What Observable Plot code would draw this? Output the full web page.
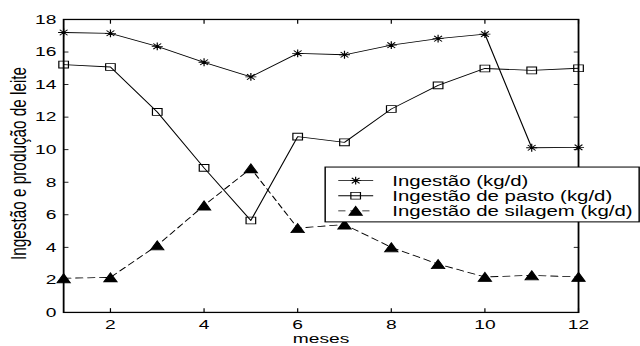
<!DOCTYPE html>
<html><head><meta charset="utf-8">
<script src="https://cdn.jsdelivr.net/npm/d3@7"></script>
<script src="https://cdn.jsdelivr.net/npm/@observablehq/plot@0.6"></script>
<style>body{margin:0;background:#fff} #chart svg{display:block}</style>
</head><body><div id="chart"></div>
<script>
const meses = [1,2,3,4,5,6,7,8,9,10,11,12];
const ingestao = [17.2, 17.15, 16.35, 15.37, 14.47, 15.92, 15.83, 16.42, 16.82, 17.1, 10.12, 10.14];
const pasto = [15.23, 15.08, 12.32, 8.88, 5.65, 10.8, 10.45, 12.5, 13.95, 14.99, 14.87, 15.0];
const silagem = [2.1, 2.15, 4.12, 6.57, 8.85, 5.18, 5.4, 4.0, 2.97, 2.18, 2.28, 2.18];
const seriesNames = ["Ingestão (kg/d)", "Ingestão de pasto (kg/d)", "Ingestão de silagem (kg/d)"];
const xTicks = [2,4,6,8,10,12];
const yTicks = [0,2,4,6,8,10,12,14,16,18];
const xLabel = "meses";
const yLabel = "Ingestão e produção de leite";

const seriesValues = [ingestao, pasto, silagem];
const rows = seriesNames.map((s, k) => meses.map((m, i) => ({mes: m, valor: seriesValues[k][i], serie: s})));

const asterisk = {draw(ctx){ const r=4.6, d=r*0.7071;
  ctx.moveTo(-r,0);ctx.lineTo(r,0);ctx.moveTo(0,-r);ctx.lineTo(0,r);
  ctx.moveTo(-d,-d);ctx.lineTo(d,d);ctx.moveTo(-d,d);ctx.lineTo(d,-d);}};
const square = {draw(ctx){ const s=4; ctx.moveTo(-s,-s);ctx.lineTo(s,-s);ctx.lineTo(s,s);ctx.lineTo(-s,s);ctx.closePath();}};
const triangle = {draw(ctx){ const w=5.5,h=5.3; ctx.moveTo(0,-h);ctx.lineTo(w,h);ctx.lineTo(-w,h);ctx.closePath();}};
const symbols = [asterisk, square, triangle];
const fills = ["none", "none", "black"];
const dashes = [null, null, "6,4"];

const VW = 533, VH = 407;
const marks = [];
rows.forEach((r, k) => {
  marks.push(Plot.lineY(r, {x: "mes", y: "valor", stroke: "black", strokeWidth: 1, strokeDasharray: dashes[k]}));
  marks.push(Plot.dot(r, {x: "mes", y: "valor", symbol: symbols[k], stroke: "black", fill: fills[k], strokeWidth: 1, r: 5}));
});
marks.push(
  Plot.axisX({ticks: xTicks, tickSize: 0, tickPadding: 8, label: null, fontSize: 16}),
  Plot.axisX({ticks: xTicks, tickSize: -4.5, text: null, label: null}),
  Plot.axisX({anchor: "top", ticks: xTicks, tickSize: -4.5, text: null, label: null}),
  Plot.axisY({ticks: yTicks, tickSize: 0, tickPadding: 6, label: null, fontSize: 16}),
  Plot.axisY({ticks: yTicks, tickSize: -4.5, text: null, label: null}),
  Plot.axisY({anchor: "right", ticks: yTicks, tickSize: -4.5, text: null, label: null}),
  Plot.frame({stroke: "black", strokeWidth: 1.5}),
  Plot.text([xLabel], {frameAnchor: "bottom", dy: 30.6, text: d => d, lineAnchor: "middle", textAnchor: "middle", fontSize: 16}),
  Plot.text([yLabel], {frameAnchor: "left", rotate: -90, dx: -36.7, dy: -3, text: d => d, fontSize: 18, lineAnchor: "middle", textAnchor: "middle"})
);

const svg = Plot.plot({
  width: VW, height: VH,
  marginLeft: 52.5, marginRight: 51.7, marginTop: 22.4, marginBottom: 40,
  style: {fontFamily: "'Liberation Sans', Arial, sans-serif", fontSize: "15px", color: "#000", background: "#fff"},
  x: {domain: [1, 12]},
  y: {domain: [0, 18]},
  marks
});

// legend
const lg = d3.select(svg).append("g").attr("text-anchor", "start");
lg.append("rect").attr("x", 270.8).attr("y", 196.5).attr("width", 261.5).attr("height", 64.5)
  .attr("fill", "white").attr("stroke", "black").attr("stroke-width", 1.2);
const rowY = [212.5, 230.3, 248.0];
seriesNames.forEach((name, k) => {
  lg.append("line").attr("x1", 281.7).attr("x2", 310.8).attr("y1", rowY[k]).attr("y2", rowY[k])
    .attr("stroke", "black").attr("stroke-width", 1).attr("stroke-dasharray", dashes[k]);
  lg.append("path").attr("d", d3.symbol().type(symbols[k])()).attr("transform", `translate(296.2,${rowY[k]})`)
    .attr("stroke", "black").attr("fill", fills[k]);
  lg.append("text").attr("x", 326.7).attr("y", rowY[k]).attr("dy", "0.35em").attr("text-anchor", "start")
    .attr("font-size", 17).attr("fill", "black").text(name);
});

svg.setAttribute("width", 640);
svg.setAttribute("height", 346);
svg.setAttribute("preserveAspectRatio", "none");
svg.style.width = "640px";
svg.style.height = "346px";
svg.style.maxWidth = "none";
document.getElementById("chart").appendChild(svg);
</script>
</body></html>
